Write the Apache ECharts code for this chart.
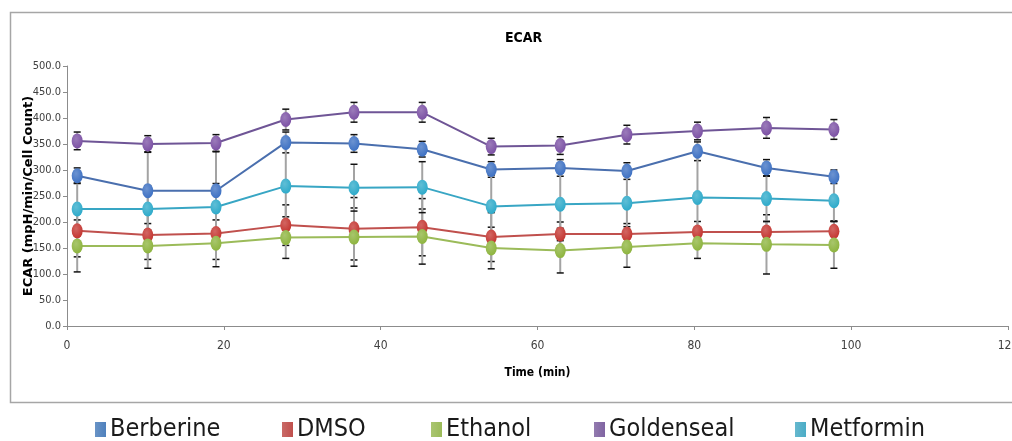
<!DOCTYPE html>
<html>
<head>
<meta charset="utf-8">
<script src="https://cdn.jsdelivr.net/npm/echarts@6/dist/echarts.min.js"></script>
<style>
  html, body { margin: 0; padding: 0; background: #fff; }
  #chart { width: 1012px; height: 441px; }
</style>
</head>
<body>
<div id="chart"></div>
<script>
// Measurement times (min)
const times = [1.3, 10.3, 19.0, 27.9, 36.6, 45.3, 54.1, 62.9, 71.4, 80.4, 89.2, 97.8];

// ECAR means per treatment
const berberine  = [289, 260, 260, 353, 351, 340, 301, 304, 298, 336, 304, 287];
const dmso       = [183, 175, 178, 194, 187, 190, 171, 177, 177, 181, 181, 182];
const ethanol    = [154, 154, 159, 170, 171, 172, 150, 145, 152, 159, 157, 156];
const goldenseal = [356, 350, 352, 397, 411, 411, 345, 347, 368, 375, 381, 378];
const metformin  = [225, 225, 229, 269, 266, 267, 230, 234, 236, 247, 245, 241];

// Error (±) per treatment
const berberineErr  = [15, 75, 75, 20, 17, 15, 15, 16, 16, 18, 16, 13];
const dmsoErr       = [50, 47, 50, 39, 60, 55, 47, 23, 20, 20, 20, 20];
const ethanolErr    = [50, 43, 45, 40, 56, 53, 40, 43, 39, 29, 57, 45];
const goldensealErr = [17, 16, 16, 20, 19, 19, 16, 17, 18, 17, 20, 19];
const metforminErr  = [50, 45, 45, 80, 45, 49, 60, 70, 60, 80, 44, 40];

const yTicks = { min: 0, max: 500, step: 50 };
const xTicks = { min: 0, max: 120, step: 20 };

const treatments = [
  { name: 'Berberine',  values: berberine,  err: berberineErr,  line: '#4a6fae', mark: '#3b6fc2', legend: '#4f81bd' },
  { name: 'DMSO',       values: dmso,       err: dmsoErr,       line: '#c0504d', mark: '#c3332e', legend: '#c0504d' },
  { name: 'Ethanol',    values: ethanol,    err: ethanolErr,    line: '#9bbb59', mark: '#8cb33c', legend: '#9bbb59' },
  { name: 'Goldenseal', values: goldenseal, err: goldensealErr, line: '#6f5596', mark: '#7a4fa3', legend: '#8064a2' },
  { name: 'Metformin',  values: metformin,  err: metforminErr,  line: '#38a6c4', mark: '#2ba9c9', legend: '#4bacc6' }
];

const narrow = "'Liberation Sans Narrow', 'DejaVu Sans Condensed', 'Liberation Sans', sans-serif";

function markerFill(c) {
  return new echarts.graphic.RadialGradient(0.4, 0.35, 0.7, [
    { offset: 0, color: echarts.color.lift(c, 0.25) },
    { offset: 1, color: c }
  ]);
}

function legendFill(c) {
  return new echarts.graphic.LinearGradient(0, 0, 1, 0, [
    { offset: 0, color: echarts.color.lift(c, 0.15) },
    { offset: 1, color: c }
  ]);
}

function errorSeries(t) {
  return {
    type: 'custom',
    name: t.name + ' error',
    z: 1,
    silent: true,
    data: times.map((x, i) => [x, t.values[i] - t.err[i], t.values[i] + t.err[i]]),
    renderItem: function (params, api) {
      const x = api.value(0);
      const lo = api.coord([x, api.value(1)]);
      const hi = api.coord([x, api.value(2)]);
      const cap = 3.5;
      return {
        type: 'group',
        children: [
          { type: 'line', shape: { x1: lo[0], y1: lo[1], x2: hi[0], y2: hi[1] },
            style: { stroke: '#a3a3a3', lineWidth: 2 } },
          { type: 'line', shape: { x1: lo[0] - cap, y1: lo[1], x2: lo[0] + cap, y2: lo[1] },
            style: { stroke: '#111', lineWidth: 1.5 } },
          { type: 'line', shape: { x1: hi[0] - cap, y1: hi[1], x2: hi[0] + cap, y2: hi[1] },
            style: { stroke: '#111', lineWidth: 1.5 } }
        ]
      };
    }
  };
}

function lineSeries(t) {
  return {
    type: 'line',
    name: t.name,
    z: 3,
    data: times.map((x, i) => [x, t.values[i]]),
    symbol: 'circle',
    symbolSize: [11, 15],
    showAllSymbol: true,
    lineStyle: { color: t.line, width: 2 },
    itemStyle: { color: markerFill(t.mark), borderWidth: 0 },
    color: t.legend,
    emphasis: { disabled: true },
    animation: false
  };
}

const legendLefts = [95, 282, 431, 594, 795];

const option = {
  animation: false,
  graphic: [
    { type: 'rect', left: 8, top: 10, z: -1,
      shape: { width: 1010, height: 390 },
      style: { fill: 'none', stroke: '#a6a6a6', lineWidth: 1.5 } }
  ],
  title: {
    text: 'ECAR',
    left: 500,
    top: 26,
    textStyle: { fontFamily: narrow, fontWeight: 'bold', fontSize: 14, color: '#000' }
  },
  legend: treatments.map((t, i) => ({
    left: legendLefts[i],
    top: 417,
    itemWidth: 11,
    itemHeight: 15,
    itemGap: 0,
    padding: 0,
    icon: 'rect',
    data: [{ name: t.name, itemStyle: { color: legendFill(t.legend) } }],
    textStyle: { fontFamily: "'DejaVu Sans Condensed', 'DejaVu Sans', sans-serif", fontSize: 25, color: '#1a1a1a', padding: [0, 0, 0, -1] },
    selectedMode: false
  })),
  grid: { left: 67, right: 4, top: 66, bottom: 115, containLabel: false, outerBoundsMode: 'none' },
  xAxis: {
    type: 'value',
    min: xTicks.min, max: xTicks.max, interval: xTicks.step,
    name: 'Time (min)',
    nameLocation: 'middle',
    nameGap: 41,
    nameTextStyle: { fontFamily: narrow, fontWeight: 'bold', fontSize: 12, color: '#000' },
    axisLine: { lineStyle: { color: '#8c8c8c', width: 1 } },
    axisTick: { show: true, length: 4, lineStyle: { color: '#8c8c8c' } },
    axisLabel: { fontFamily: narrow, fontSize: 12, color: '#404040', margin: 14, hideOverlap: false },
    splitLine: { show: false }
  },
  yAxis: {
    type: 'value',
    min: yTicks.min, max: yTicks.max, interval: yTicks.step,
    name: 'ECAR (mpH/min/Cell Count)',
    nameLocation: 'middle',
    nameGap: 32,
    nameMoveOverlap: false,
    nameTextStyle: { fontFamily: "'DejaVu Sans', sans-serif", fontWeight: 'bold', fontSize: 13, color: '#000' },
    axisLine: { show: true, lineStyle: { color: '#8c8c8c', width: 1 } },
    axisTick: { show: true, length: 4, lineStyle: { color: '#8c8c8c' } },
    axisLabel: { fontFamily: narrow, fontSize: 11, color: '#404040', margin: 6,
                 formatter: v => v.toFixed(1) },
    splitLine: { show: false }
  },
  series: treatments.map(errorSeries).concat(treatments.map(lineSeries))
};

const chart = echarts.init(document.getElementById('chart'), null, { renderer: 'canvas' });
chart.setOption(option);
</script>
</body>
</html>
